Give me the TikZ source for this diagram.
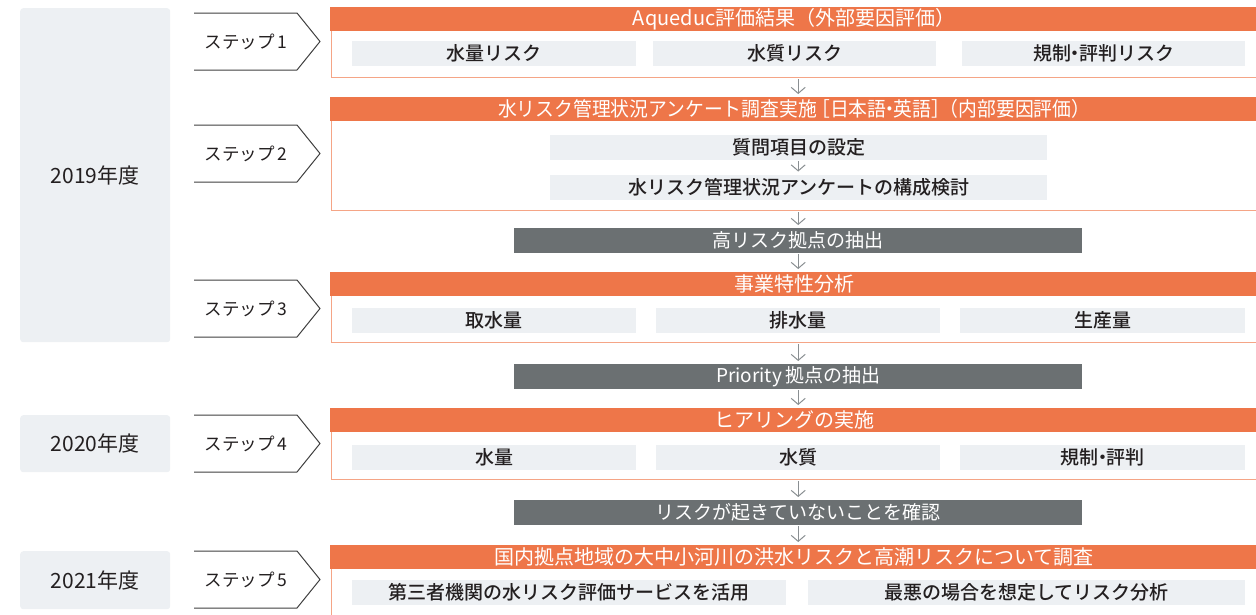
\documentclass[tikz,border=0pt]{standalone}
\usepackage{graphicx}
\usepackage{fontspec}
\setmainfont{Noto Sans CJK JP}
\newfontfamily\medfont{Noto Sans CJK JP Medium}
\usetikzlibrary{arrows.meta}
\definecolor{org}{HTML}{EE7649}
\definecolor{orgl}{HTML}{F5A586}
\definecolor{bargray}{HTML}{6B7072}
\definecolor{lt}{HTML}{EDF0F3}
\definecolor{txt}{HTML}{231F20}
\definecolor{ln}{HTML}{3F3F3F}
\definecolor{arw}{HTML}{8A8F92}
\tikzset{
  outbox/.style={draw=orgl, line width=1pt, inner sep=0pt, anchor=north west},
  hdr/.style={fill=org, text=white, inner sep=0pt, anchor=north west, minimum height=24pt, minimum width=928pt, font=\fontsize{20}{20}\selectfont},
  subbox/.style={fill=lt, text=txt, inner sep=0pt, anchor=north west, minimum height=25pt, font=\medfont\fontsize{19}{19}\selectfont},
  gbar/.style={fill=bargray, text=white, inner sep=0pt, anchor=north west, minimum height=25pt, minimum width=568pt, font=\fontsize{19}{19}\selectfont},
  yearbox/.style={fill=lt, rounded corners=3pt, text=txt, inner sep=0pt, anchor=north west, minimum width=150pt, font=\fontsize{21}{21}\selectfont},
  steplbl/.style={text=txt, inner sep=0pt, font=\fontsize{17.5}{17.5}\selectfont},
  stepshape/.style={draw=ln, line width=1pt},
  arr/.style={draw=arw, line width=1pt, -{Straight Barb[length=6pt,width=14pt]}, shorten <=1pt, shorten >=3pt}
}
\begin{document}
\begin{tikzpicture}[x=1pt,y=-1pt]
\useasboundingbox (0,0) rectangle (1256,614);
% year boxes
\node[yearbox, minimum height=334pt] (y1) at (20,8) {2019年度};
\node[yearbox, minimum height=57pt] (y2) at (20,415) {2020年度};
\node[yearbox, minimum height=58pt] (y3) at (20,551) {2021年度};
% steps
\draw[stepshape] (194,13) -- (297,13) -- (320,41.5) -- (297,70) -- (194,70);
\node[steplbl] (s1) at (246,41.5) {ステップ\,1};
\draw[stepshape] (194,125) -- (297,125) -- (320,153.5) -- (297,182) -- (194,182);
\node[steplbl] (s2) at (246,153.5) {ステップ\,2};
\draw[stepshape] (194,280) -- (297,280) -- (320,308.5) -- (297,337) -- (194,337);
\node[steplbl] (s3) at (246,308.5) {ステップ\,3};
\draw[stepshape] (194,415) -- (297,415) -- (320,443.5) -- (297,472) -- (194,472);
\node[steplbl] (s4) at (246,443.5) {ステップ\,4};
\draw[stepshape] (194,551) -- (297,551) -- (320,579.5) -- (297,608) -- (194,608);
\node[steplbl] (s5) at (246,579.5) {ステップ\,5};
% section 1
\node[outbox, minimum width=930pt, minimum height=70pt] (b1) at (330.5,7) {};
\node[hdr] (h1) at (330,7) {Aqueduc評価結果（外部要因評価）};
\node[subbox, minimum width=284pt] (p11) at (352,41) {水量リスク};
\node[subbox, minimum width=283pt] (p12) at (653,41) {水質リスク};
\node[subbox, minimum width=283pt] (p13) at (962,41) {規制\kern-.3em・\kern-.3em評判リスク};
% section 2
\node[outbox, minimum width=930pt, minimum height=113pt] (b2) at (330.5,97) {};
\node[hdr] (h2) at (330,97) {\scalebox{0.94}[1]{水リスク管理状況アンケート調査実施\kern-.3em［日本語\kern-.3em・\kern-.3em英語］\kern-.55em（内部要因評価）}};
\node[subbox, minimum width=497pt] (p21) at (550,135) {質問項目の設定};
\node[subbox, minimum width=497pt] (p22) at (550,174.5) {水リスク管理状況アンケートの構成検討};
% bar 1
\node[gbar] (g1) at (514,228) {高リスク拠点の抽出};
% section 3
\node[outbox, minimum width=930pt, minimum height=70pt] (b3) at (330.5,272) {};
\node[hdr] (h3) at (330,272) {事業特性分析};
\node[subbox, minimum width=284pt] (p31) at (352,308) {取水量};
\node[subbox, minimum width=284pt] (p32) at (656,308) {排水量};
\node[subbox, minimum width=285pt] (p33) at (960,308) {生産量};
% bar 2
\node[gbar] (g2) at (514,364) {Priority\,拠点の抽出};
% section 4
\node[outbox, minimum width=930pt, minimum height=71pt] (b4) at (330.5,408) {};
\node[hdr] (h4) at (330,408) {ヒアリングの実施};
\node[subbox, minimum width=284pt] (p41) at (352,445) {水量};
\node[subbox, minimum width=284pt] (p42) at (656,445) {水質};
\node[subbox, minimum width=285pt] (p43) at (960,445) {規制\kern-.3em・\kern-.3em評判};
% bar 3
\node[gbar] (g3) at (514,500) {リスクが起きていないことを確認};
% section 5
\node[outbox, minimum width=930pt, minimum height=80pt] (b5) at (330.5,545) {};
\node[hdr] (h5) at (330,545) {国内拠点地域の大中小河川の洪水リスクと高潮リスクについて調査};
\node[subbox, minimum width=434pt] (p51) at (352,580) {第三者機関の水リスク評価サービスを活用};
\node[subbox, minimum width=437pt] (p52) at (808,580) {最悪の場合を想定してリスク分析};
% arrows
\draw[arr] (b1.south -| g1.center) -- (h2.north -| g1.center);
\draw[arr] (p21.south -| g1.center) -- (p22.north -| g1.center);
\draw[arr] (b2.south -| g1.center) -- (g1.north);
\draw[arr] (g1.south) -- (h3.north -| g1.center);
\draw[arr] (b3.south -| g2.center) -- (g2.north);
\draw[arr] (g2.south) -- (h4.north -| g2.center);
\draw[arr] (b4.south -| g3.center) -- (g3.north);
\draw[arr] (g3.south) -- (h5.north -| g3.center);
\end{tikzpicture}
\end{document}
